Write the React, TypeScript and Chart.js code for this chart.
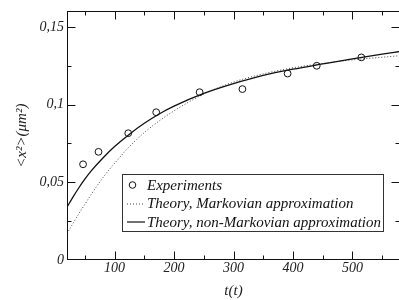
import { useEffect, useRef } from 'react';
import { Chart, registerables } from 'chart.js';

Chart.register(...registerables);

// ---- data ----
const expT = [47, 73, 123, 170, 243, 315, 391, 440, 515];
const expMsd = [0.0616, 0.0696, 0.0816, 0.0951, 0.108, 0.11, 0.12, 0.125, 0.1304];

const theoryT = [20, 30, 40, 50, 60, 80, 100, 125, 150, 175, 200, 250, 300, 350, 400, 450, 500, 550, 580];
const markovMsd = [0.017, 0.0235, 0.0298, 0.0358, 0.0418, 0.0528, 0.0622, 0.073, 0.082, 0.0895, 0.096, 0.1068, 0.1145, 0.1198, 0.1237, 0.1265, 0.1288, 0.1305, 0.1315];
const nonMarkovMsd = [0.034, 0.0405, 0.0465, 0.052, 0.057, 0.0655, 0.073, 0.081, 0.088, 0.094, 0.099, 0.1072, 0.1135, 0.1188, 0.1228, 0.1262, 0.1295, 0.1325, 0.1342];

const xTickValues = [100, 200, 300, 400, 500];
const xTickLabels = ['100', '200', '300', '400', '500'];
const yTickValues = [0, 0.05, 0.1, 0.15];
const yTickLabels = ['0', '0,05', '0,1', '0,15'];
const xMinorTicks = [50, 100, 150, 200, 250, 300, 350, 400, 450, 500, 550];
const yMinorTicks = [0.025, 0.05, 0.075, 0.1, 0.125, 0.15];

const legendLabels = ['Experiments', 'Theory, Markovian approximation', 'Theory, non-Markovian approximation'];
const xTitle = 't(t)';
const yTitle = '<x²>(μm²)';

const FONT = '"Liberation Serif", "Times New Roman", serif';

const framePlugin = {
  id: 'frame',
  afterDatasetsDraw(chart: any) {
    const { ctx, chartArea: a, scales } = chart;
    const xs = scales.x;
    const ys = scales.y;
    ctx.save();
    ctx.strokeStyle = '#111';
    ctx.lineWidth = 1;
    const L = Math.round(a.left) + 0.5;
    const R = Math.round(a.right) - 0.5;
    const T = Math.round(a.top) + 0.5;
    const B = Math.round(a.bottom) - 0.5;
    ctx.strokeRect(L, T, R - L, B - T);
    ctx.beginPath();
    xMinorTicks.forEach((v) => {
      const px = Math.round(xs.getPixelForValue(v)) + 0.5;
      const len = v % 100 === 0 ? 8 : 4;
      ctx.moveTo(px, B);
      ctx.lineTo(px, B - len);
      ctx.moveTo(px, T);
      ctx.lineTo(px, T + len);
    });
    yMinorTicks.forEach((v) => {
      const py = Math.round(ys.getPixelForValue(v)) + 0.5;
      const major = Math.abs(v / 0.05 - Math.round(v / 0.05)) < 1e-6;
      const len = major ? 8 : 4;
      ctx.moveTo(L, py);
      ctx.lineTo(L + len, py);
      ctx.moveTo(R, py);
      ctx.lineTo(R - len, py);
    });
    ctx.stroke();

    // legend
    const bx = 122.5, by = 174.5, bw = 261, bh = 57;
    ctx.fillStyle = '#fff';
    ctx.fillRect(bx, by, bw, bh);
    ctx.strokeStyle = '#333';
    ctx.strokeRect(bx, by, bw, bh);
    const rows = [185, 203.5, 222];
    ctx.font = `italic 15px ${FONT}`;
    ctx.fillStyle = '#111';
    ctx.textBaseline = 'middle';
    ctx.textAlign = 'left';
    ctx.beginPath();
    ctx.strokeStyle = '#111';
    ctx.lineWidth = 1;
    ctx.arc(132.5, rows[0], 3.3, 0, Math.PI * 2);
    ctx.stroke();
    ctx.beginPath();
    ctx.setLineDash([1, 2]);
    ctx.strokeStyle = '#444';
    ctx.moveTo(127, rows[1] + 0.5);
    ctx.lineTo(145, rows[1] + 0.5);
    ctx.stroke();
    ctx.setLineDash([]);
    ctx.beginPath();
    ctx.strokeStyle = '#111';
    ctx.lineWidth = 1.2;
    ctx.moveTo(127, rows[2]);
    ctx.lineTo(145, rows[2]);
    ctx.stroke();
    legendLabels.forEach((t, i) => ctx.fillText(t, 147, rows[i] + 1));
    ctx.restore();
  },
};

export default function App() {
  const ref = useRef<HTMLCanvasElement | null>(null);
  useEffect(() => {
    if (!ref.current) return;
    const chart = new Chart(ref.current, {
      type: 'scatter',
      data: {
        datasets: [
          {
            label: legendLabels[0],
            data: expT.map((t, i) => ({ x: t, y: expMsd[i] })),
            showLine: false,
            pointStyle: 'circle',
            pointRadius: 3.4,
            pointBorderWidth: 1,
            pointBorderColor: '#111',
            pointBackgroundColor: 'rgba(0,0,0,0)',
            order: 0,
          },
          {
            label: legendLabels[1],
            data: theoryT.map((t, i) => ({ x: t, y: markovMsd[i] })),
            showLine: true,
            pointRadius: 0,
            borderColor: '#444',
            borderWidth: 1,
            borderDash: [1, 2],
            cubicInterpolationMode: 'monotone',
            order: 2,
          },
          {
            label: legendLabels[2],
            data: theoryT.map((t, i) => ({ x: t, y: nonMarkovMsd[i] })),
            showLine: true,
            pointRadius: 0,
            borderColor: '#111',
            borderWidth: 1.3,
            cubicInterpolationMode: 'monotone',
            order: 1,
          },
        ],
      } as any,
      options: {
        responsive: false,
        animation: false,
        layout: { padding: { left: 0, top: 7, right: 0, bottom: 0 } },
        plugins: { legend: { display: false }, tooltip: { enabled: false } },
        scales: {
          x: {
            type: 'linear',
            min: 20,
            max: 580,
            grid: { display: false, drawTicks: false },
            border: { display: false },
            afterBuildTicks: (s: any) => {
              s.ticks = xTickValues.map((v) => ({ value: v }));
            },
            afterFit: (s: any) => {
              s.height = 40;
            },
            ticks: {
              padding: 0,
              color: '#222',
              font: { family: FONT, style: 'italic', size: 14 },
              callback: (v: any) => {
                const i = xTickValues.indexOf(Number(v));
                return i >= 0 ? xTickLabels[i] : '';
              },
            },
            title: {
              display: true,
              text: xTitle,
              color: '#222',
              font: { family: FONT, style: 'italic', size: 15 },
              padding: { top: 0, bottom: 0 },
            },
          },
          y: {
            type: 'linear',
            min: 0,
            max: 0.16,
            grid: { display: false, drawTicks: false },
            border: { display: false },
            afterBuildTicks: (s: any) => {
              s.ticks = yTickValues.map((v) => ({ value: v }));
            },
            afterFit: (s: any) => {
              s.width = 67;
            },
            ticks: {
              padding: 3,
              color: '#222',
              font: { family: FONT, style: 'italic', size: 14 },
              callback: (v: any) => {
                const i = yTickValues.findIndex((t) => Math.abs(t - Number(v)) < 1e-9);
                return i >= 0 ? yTickLabels[i] : '';
              },
            },
            title: {
              display: true,
              text: yTitle,
              color: '#222',
              font: { family: FONT, style: 'italic', size: 15 },
              padding: { top: 13, bottom: 0 },
            },
          },
        },
      } as any,
      plugins: [framePlugin],
    });
    return () => chart.destroy();
  }, []);

  return (
    <div style={{ position: 'fixed', left: 0, top: 0, width: 399, height: 300, overflow: 'hidden', background: '#fff' }}>
      <canvas ref={ref} width={405} height={300} style={{ width: 405, height: 300, display: 'block' }} />
    </div>
  );
}
